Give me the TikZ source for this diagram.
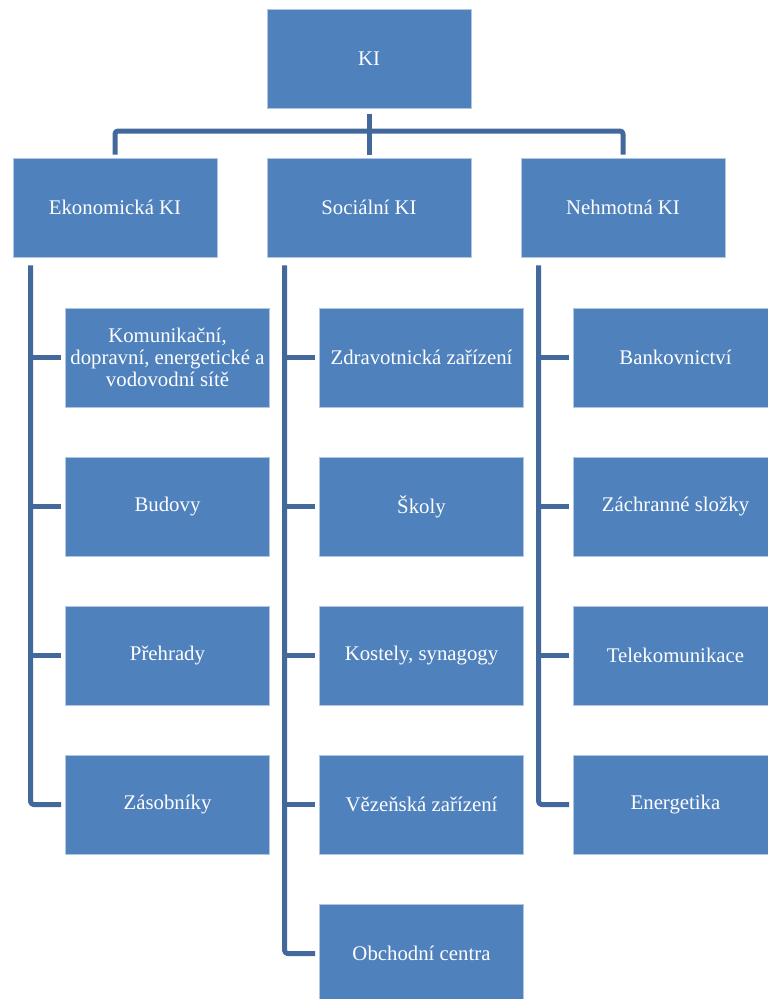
\documentclass[tikz,border=0pt]{standalone}
\usepackage{fontspec}
\setmainfont{Liberation Serif}
\definecolor{kiblue}{HTML}{4F81BD}
\definecolor{kiline}{HTML}{42689C}

\begin{document}
\begin{tikzpicture}[x=1pt, y=-1pt, line join=round,
    box/.style = {draw=white!55!kiblue, line width=0.8pt, fill=kiblue, text=white,
                  minimum width=204, minimum height=99, inner sep=1pt, align=center,
                  font=\fontsize{20.8}{22}\selectfont},
    conn/.style = {draw=kiline, line width=5pt}]
    \useasboundingbox (0,0) rectangle (768,999);

    % Disegna i nodi
    \node[box] (ki) at (369, 59) {KI};
    \node[box] (eko) at (115, 207.5) {Ekonomická KI};
    \node[box] (soc) at (369, 207.5) {Sociální KI};
    \node[box] (neh) at (623, 207.5) {Nehmotná KI};

    \node[box] (eko1) at (167.5, 357.5) {Komunikační,\\dopravní, energetické a\\vodovodní sítě};
    \node[box] (eko2) at (167.5, 506.5) {Budovy};
    \node[box] (eko3) at (167.5, 655.5) {Přehrady};
    \node[box] (eko4) at (167.5, 804.5) {Zásobníky};

    \node[box] (soc1) at (421.5, 357.5) {Zdravotnická zařízení};
    \node[box] (soc2) at (421.5, 506.5) {Školy};
    \node[box] (soc3) at (421.5, 655.5) {Kostely, synagogy};
    \node[box] (soc4) at (421.5, 804.5) {Vězeňská zařízení};
    \node[box] (soc5) at (421.5, 953.5) {Obchodní centra};

    \node[box] (neh1) at (675.5, 357.5) {Bankovnictví};
    \node[box] (neh2) at (675.5, 506.5) {Záchranné složky};
    \node[box] (neh3) at (675.5, 655.5) {Telekomunikace};
    \node[box] (neh4) at (675.5, 804.5) {Energetika};

    \coordinate (bus) at (369, 131);
    \coordinate (ekoline) at ([xshift=18]eko.south west);
    \coordinate (socline) at ([xshift=18]soc.south west);
    \coordinate (nehline) at ([xshift=18]neh.south west);

    % Collegamenti
    \draw[conn] ([yshift=-5]ki.south) -- ([yshift=3]soc.north);
    \draw[conn, rounded corners=3] ([yshift=3]eko.north) |- (bus) -| ([yshift=3]neh.north);

    \draw[conn, rounded corners=3] ([yshift=-8]ekoline) |- ([xshift=-4]eko4.west);
    \draw[conn] (ekoline |- eko1.west) -- ([xshift=-4]eko1.west);
    \draw[conn] (ekoline |- eko2.west) -- ([xshift=-4]eko2.west);
    \draw[conn] (ekoline |- eko3.west) -- ([xshift=-4]eko3.west);

    \draw[conn, rounded corners=3] ([yshift=-8]socline) |- ([xshift=-4]soc5.west);
    \draw[conn] (socline |- soc1.west) -- ([xshift=-4]soc1.west);
    \draw[conn] (socline |- soc2.west) -- ([xshift=-4]soc2.west);
    \draw[conn] (socline |- soc3.west) -- ([xshift=-4]soc3.west);
    \draw[conn] (socline |- soc4.west) -- ([xshift=-4]soc4.west);

    \draw[conn, rounded corners=3] ([yshift=-8]nehline) |- ([xshift=-4]neh4.west);
    \draw[conn] (nehline |- neh1.west) -- ([xshift=-4]neh1.west);
    \draw[conn] (nehline |- neh2.west) -- ([xshift=-4]neh2.west);
    \draw[conn] (nehline |- neh3.west) -- ([xshift=-4]neh3.west);

\end{tikzpicture}
\end{document}
